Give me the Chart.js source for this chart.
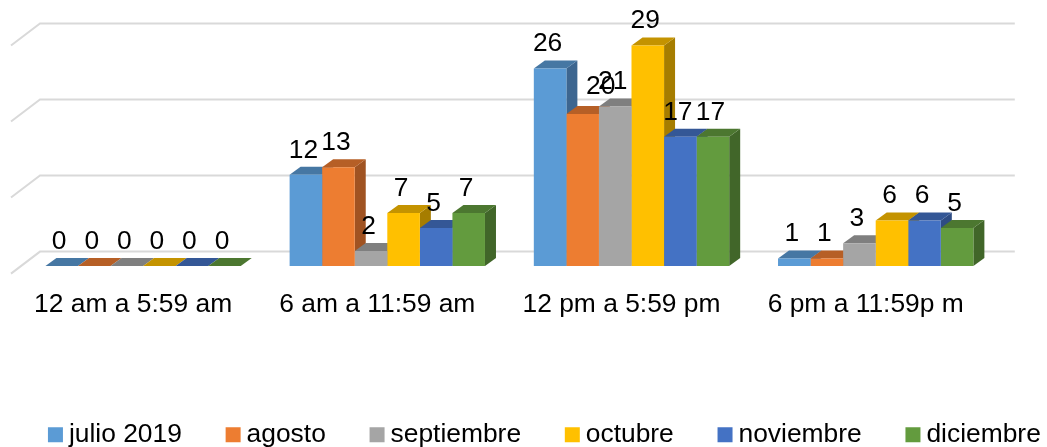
<!DOCTYPE html>
<html>
<head>
<meta charset="utf-8">
<title>Chart</title>
<script src="https://cdn.jsdelivr.net/npm/chart.js@4/dist/chart.umd.js"></script>
<style>
  html, body { margin: 0; padding: 0; background: #fff; width: 1047px; height: 447px; overflow: hidden; }
  canvas { display: block; }
</style>
</head>
<body>
<canvas id="barChart" width="1096" height="458"></canvas>
<script>
const categories = ['12 am a 5:59 am', '6 am a 11:59 am', '12 pm a 5:59 pm', '6 pm a 11:59p m'];

const julio = [0, 12, 26, 1];
const agosto = [0, 13, 20, 1];
const septiembre = [0, 2, 21, 3];
const octubre = [0, 7, 29, 6];
const noviembre = [0, 5, 17, 6];
const diciembre = [0, 7, 17, 5];

const seriesNames = ['julio 2019', 'agosto', 'septiembre', 'octubre', 'noviembre', 'diciembre'];
const seriesValues = [julio, agosto, septiembre, octubre, noviembre, diciembre];

const frontColors = ['#5B9BD5', '#ED7D31', '#A5A5A5', '#FFC000', '#4472C4', '#639B3E'];
const topColors = ['#4677A3', '#B65F26', '#7F7F7F', '#C49300', '#345796', '#4C7730'];
const sideColors = ['#3D6690', '#A05322', '#6E6E6E', '#A67D00', '#2E4C84', '#416629'];

const yTicks = [0, 10, 20, 30];
const fontName = '"Liberation Sans", Arial, sans-serif';
const fontSize = 26.4;

// depth of the fake 3D boxes
const depthX = 11;
const depthY = 8;

function fillShape(ctx, color, points) {
  ctx.fillStyle = color;
  ctx.beginPath();
  points.forEach((p, i) => (i === 0 ? ctx.moveTo(p[0], p[1]) : ctx.lineTo(p[0], p[1])));
  ctx.closePath();
  ctx.fill();
}

const wallGrid = {
  id: 'wallGrid',
  beforeDatasetsDraw(chart) {
    const ctx = chart.ctx;
    const area = chart.chartArea;
    ctx.save();
    ctx.strokeStyle = '#D9D9D9';
    ctx.lineWidth = 2;
    yTicks.forEach(v => {
      const y = chart.scales.y.getPixelForValue(v) - 14.5;
      ctx.beginPath();
      ctx.moveTo(area.left - 10, y + 22);
      ctx.lineTo(area.left + 19, y);
      ctx.lineTo(area.right + 17, y);
      ctx.stroke();
    });
    ctx.restore();
  }
};

const boxFaces = {
  id: 'boxFaces',
  beforeDatasetsDraw(chart) {
    const ctx = chart.ctx;
    const base = chart.scales.y.getPixelForValue(0);
    // left to right so the next bar covers the side of the one before it
    categories.forEach((c, i) => {
      seriesValues.forEach((s, d) => {
        const bar = chart.getDatasetMeta(d).data[i];
        const l = bar.x - bar.width / 2;
        const r = bar.x + bar.width / 2;
        const t = bar.y;
        fillShape(ctx, sideColors[d], [[r, t], [r + depthX, t - depthY], [r + depthX, base - depthY], [r, base]]);
        fillShape(ctx, topColors[d], [[l, t], [l + depthX, t - depthY], [r + depthX, t - depthY], [r, t]]);
      });
    });
  }
};

const valueLabels = {
  id: 'valueLabels',
  afterDatasetsDraw(chart) {
    const ctx = chart.ctx;
    ctx.save();
    ctx.font = fontSize + 'px ' + fontName;
    ctx.fillStyle = '#000';
    ctx.textAlign = 'center';
    ctx.textBaseline = 'alphabetic';
    seriesValues.forEach((s, d) => {
      chart.getDatasetMeta(d).data.forEach((bar, i) => {
        let x = bar.x - 2.5;
        let y = bar.y - 17.3;
        // the 20 sits moved over the 21 in the original
        if (d === 1 && i === 2) {
          x += 20.5;
          y -= 2.5;
        }
        ctx.fillText(String(s[i]), x, y);
      });
    });
    ctx.restore();
  }
};

new Chart(document.getElementById('barChart').getContext('2d'), {
  type: 'bar',
  data: {
    labels: categories,
    datasets: seriesNames.map((name, d) => ({
      label: name,
      data: seriesValues[d],
      backgroundColor: frontColors[d],
      borderWidth: 0
    }))
  },
  options: {
    responsive: false,
    animation: false,
    layout: { padding: { left: 0, right: 0, top: 38, bottom: 0 } },
    datasets: { bar: { categoryPercentage: 0.8, barPercentage: 1 } },
    scales: {
      x: {
        grid: { display: false },
        border: { display: false },
        afterFit(axis) { axis.height = 104.5; },
        ticks: {
          color: '#000',
          font: { family: fontName, size: fontSize },
          padding: 15,
          labelOffset: -10,
          maxRotation: 0,
          autoSkip: false
        }
      },
      y: {
        min: 0,
        max: 30,
        grid: { display: false },
        border: { display: false },
        afterFit(axis) { axis.width = 21; },
        ticks: { display: false, stepSize: 10 }
      },
      // empty axis, only keeps the room on the right of the plot
      spacer: {
        position: 'right',
        grid: { display: false },
        border: { display: false },
        afterFit(axis) { axis.width = 98.2; },
        ticks: { display: false }
      }
    },
    plugins: {
      tooltip: { enabled: false },
      legend: {
        position: 'bottom',
        labels: {
          color: '#000',
          font: { family: fontName, size: fontSize },
          usePointStyle: true,
          pointStyle: 'rect',
          boxWidth: 0.5,
          boxHeight: 15,
          padding: 51
        }
      }
    }
  },
  plugins: [wallGrid, boxFaces, valueLabels]
});
</script>
</body>
</html>
